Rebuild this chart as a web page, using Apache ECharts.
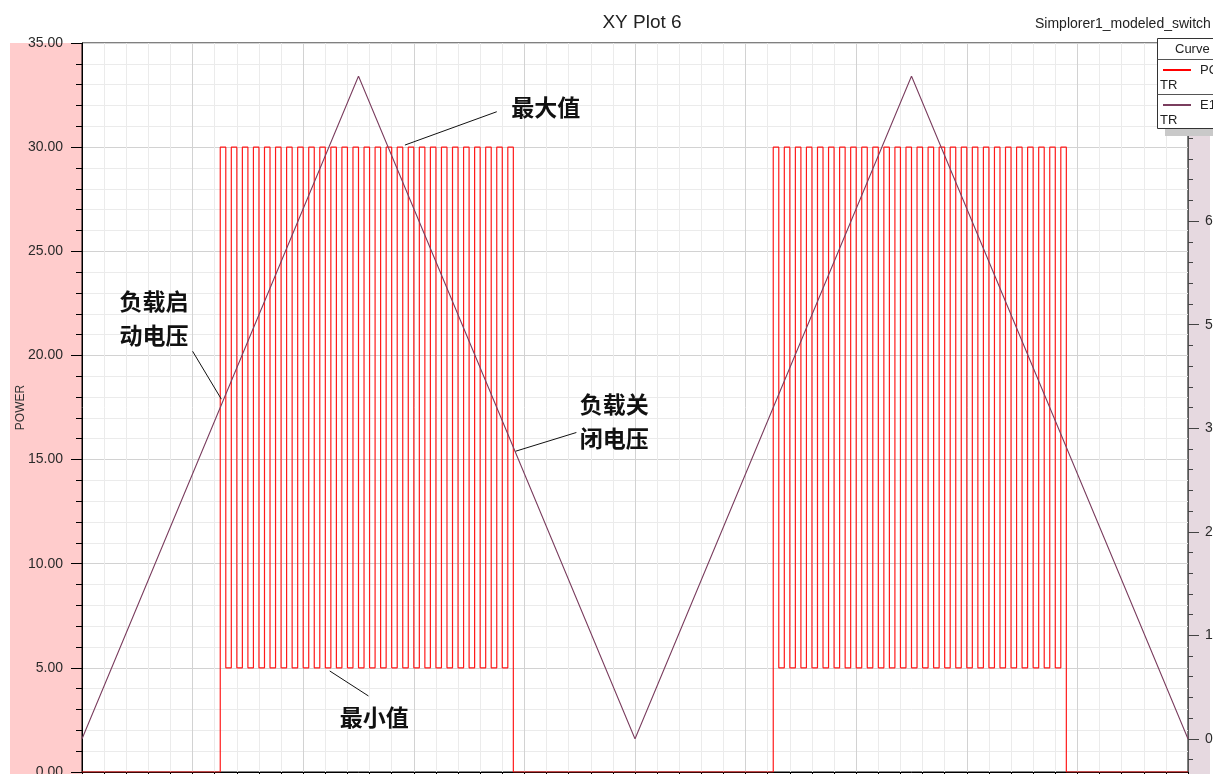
<!DOCTYPE html>
<html>
<head>
<meta charset="utf-8">
<title>XY Plot 6</title>
<script src="https://cdn.jsdelivr.net/npm/echarts@6/dist/echarts.min.js"></script>
<style>
  html, body { margin: 0; padding: 0; background: #ffffff; }
  #chart { width: 1213px; height: 774px; }
</style>
</head>
<body>
<div id="chart"></div>
<script>
// ---- data (time axis 0..100, POWER on left axis, E on right axis) ----
const powerRise = [
  12.5, 13.5, 14.5, 15.5, 16.5, 17.5, 18.5, 19.5, 20.5, 21.5, 22.5, 23.5, 24.5, 25.5,
  26.5, 27.5, 28.5, 29.5, 30.5, 31.5, 32.5, 33.5, 34.5, 35.5, 36.5, 37.5, 38.5,
  62.5, 63.5, 64.5, 65.5, 66.5, 67.5, 68.5, 69.5, 70.5, 71.5, 72.5, 73.5, 74.5, 75.5,
  76.5, 77.5, 78.5, 79.5, 80.5, 81.5, 82.5, 83.5, 84.5, 85.5, 86.5, 87.5, 88.5
];
const powerFall = [
  13.0, 14.0, 15.0, 16.0, 17.0, 18.0, 19.0, 20.0, 21.0, 22.0, 23.0, 24.0, 25.0, 26.0,
  27.0, 28.0, 29.0, 30.0, 31.0, 32.0, 33.0, 34.0, 35.0, 36.0, 37.0, 38.0, 39.0,
  63.0, 64.0, 65.0, 66.0, 67.0, 68.0, 69.0, 70.0, 71.0, 72.0, 73.0, 74.0, 75.0, 76.0,
  77.0, 78.0, 79.0, 80.0, 81.0, 82.0, 83.0, 84.0, 85.0, 86.0, 87.0, 88.0, 89.0
];
const powerBlockEnds = [39.0, 89.0];      // load switched off after these falls
const powerLevels = { high: 30, low: 5, off: 0 };
const timeRange = [0, 100];

const eTime = [0, 25, 50, 75, 100];
const eValues = [0, 80, 0, 80, 0];

const leftTicks = [0, 5, 10, 15, 20, 25, 30, 35];
const rightTicks = [0, 12.5, 25, 37.5, 50, 62.5, 75];
const rightMinorTicks = [-2.5, 2.5, 5, 7.5, 10, 15, 17.5, 20, 22.5, 27.5, 30, 32.5, 35,
  40, 42.5, 45, 47.5, 52.5, 55, 57.5, 60, 65, 67.5, 70, 72.5, 77.5, 80, 82.5];

// annotation texts with anchor (arrow tip), leader start and text position in data units
const notes = [
  { text: '最大值', tip: [29.2, 30.1], from: [37.5, 31.7], at: [38.8, 31.9] },
  { text: '负载启\n动电压', tip: [12.6, 17.9], from: [10.0, 20.2], at: [3.4, 21.8] },
  { text: '负载关\n闭电压', tip: [39.2, 15.4], from: [44.7, 16.3], at: [45.0, 16.85] },
  { text: '最小值', tip: [22.4, 4.85], from: [25.9, 3.65], at: [23.3, 2.62] }
];

// ---- build the POWER step trace from the switching edges ----
const powerData = [[timeRange[0], powerLevels.off]];
let blockStart = true;
for (let i = 0; i < powerRise.length; i++) {
  const r = powerRise[i], f = powerFall[i];
  powerData.push([r, blockStart ? powerLevels.off : powerLevels.low]);
  powerData.push([r, powerLevels.high]);
  powerData.push([f, powerLevels.high]);
  if (powerBlockEnds.includes(f)) {
    powerData.push([f, powerLevels.off]);
    blockStart = true;
  } else {
    powerData.push([f, powerLevels.low]);
    blockStart = false;
  }
}
powerData.push([timeRange[1], powerLevels.off]);

const eData = eTime.map((t, i) => [t, eValues[i]]);

const chart = echarts.init(document.getElementById('chart'), null, { renderer: 'canvas' });
const FONT = 'Liberation Sans, Arial, sans-serif';

chart.setOption({
  animation: false,
  backgroundColor: '#ffffff',
  title: [
    { text: 'XY Plot 6', left: 637, top: 8, textAlign: 'center',
      textStyle: { fontFamily: FONT, fontSize: 19, fontWeight: 'normal', color: '#222' } },
    { text: 'Simplorer1_modeled_switch', left: 1030, top: 12,
      textStyle: { fontFamily: FONT, fontSize: 14, fontWeight: 'normal', color: '#222' } }
  ],
  grid: { left: 82, right: 25, top: 43, bottom: 2, show: true, containLabel: false,
    outerBoundsMode: 'none',
    borderColor: '#000', borderWidth: 1, backgroundColor: 'transparent' },
  xAxis: {
    type: 'value', min: timeRange[0], max: timeRange[1], interval: 10,
    axisLine: { lineStyle: { color: '#000' } },
    axisTick: { show: true, length: 8, lineStyle: { color: '#000' } },
    minorTick: { show: true, splitNumber: 5, length: 5, lineStyle: { color: '#000' } },
    axisLabel: { show: false },
    splitLine: { show: true, lineStyle: { color: '#d2d2d2', width: 1 } },
    minorSplitLine: { show: true, lineStyle: { color: '#ebebeb', width: 1 } }
  },
  yAxis: [
    {
      type: 'value', min: 0, max: 35, interval: 5, position: 'left',
      name: 'POWER', nameLocation: 'middle', nameGap: 55, nameRotate: 90,
      nameMoveOverlap: false,
      nameTextStyle: { fontFamily: FONT, fontSize: 12, color: '#333' },
      axisLine: { show: true, lineStyle: { color: '#000' } },
      axisTick: { show: true, length: 11, lineStyle: { color: '#000' } },
      minorTick: { show: true, splitNumber: 5, length: 6, lineStyle: { color: '#000' } },
      axisLabel: { margin: 19, fontFamily: FONT, fontSize: 14, color: '#2a2a2a',
        formatter: v => leftTicks.includes(v) ? v.toFixed(2) : '' },
      splitLine: { show: true, lineStyle: { color: '#d2d2d2', width: 1 } },
      minorSplitLine: { show: true, lineStyle: { color: '#ebebeb', width: 1 } }
    },
    {
      type: 'value', min: -4, max: 84, position: 'right',
      axisLine: { show: true, lineStyle: { color: '#555' } },
      axisTick: { show: true, length: 11, customValues: rightTicks, lineStyle: { color: '#444' } },
      axisLabel: { margin: 17, fontFamily: FONT, fontSize: 14, color: '#2a2a2a',
        customValues: rightTicks, formatter: v => v.toFixed(2) },
      splitLine: { show: false }
    },
    {
      type: 'value', min: -4, max: 84, position: 'right',
      axisLine: { show: false },
      axisTick: { show: true, length: 5, customValues: rightMinorTicks, lineStyle: { color: '#444' } },
      axisLabel: { show: false },
      splitLine: { show: false }
    }
  ],
  series: [
    { name: 'POWER', type: 'line', yAxisIndex: 0, data: powerData, showSymbol: false,
      symbol: 'none', lineStyle: { color: '#ff1a1a', width: 1.2 }, z: 3 },
    { name: 'E', type: 'line', yAxisIndex: 1, data: eData, showSymbol: false,
      symbol: 'none', lineStyle: { color: '#7a3d5e', width: 1.2 }, z: 4 }
  ]
});

// side bands, legend box and annotations
const px = (p, yIdx) => chart.convertToPixel({ xAxisIndex: 0, yAxisIndex: yIdx || 0 }, p);
const graphics = [
  { type: 'rect', shape: { x: 10, y: 43, width: 72, height: 731 }, style: { fill: '#ffcccc' }, z: -5, silent: true },
  { type: 'rect', shape: { x: 1188, y: 43, width: 22, height: 731 }, style: { fill: '#e6d9e0' }, z: -5, silent: true },
  // legend
  { type: 'rect', shape: { x: 1165, y: 129, width: 60, height: 7 }, style: { fill: '#c9c9c9' }, z: 50 },
  { type: 'rect', shape: { x: 1157.5, y: 38.5, width: 70, height: 90 }, style: { fill: '#ffffff', stroke: '#333', lineWidth: 1 }, z: 51 },
  { type: 'line', shape: { x1: 1157.5, y1: 59.5, x2: 1213, y2: 59.5 }, style: { stroke: '#555', lineWidth: 1 }, z: 52 },
  { type: 'line', shape: { x1: 1157.5, y1: 94.5, x2: 1213, y2: 94.5 }, style: { stroke: '#555', lineWidth: 1 }, z: 52 },
  { type: 'text', x: 1175, y: 49, style: { text: 'Curve Info', font: '13px ' + FONT, fill: '#222', verticalAlign: 'middle' }, z: 52 },
  { type: 'line', shape: { x1: 1163, y1: 70, x2: 1191, y2: 70 }, style: { stroke: '#ff0000', lineWidth: 2 }, z: 52 },
  { type: 'text', x: 1200, y: 70, style: { text: 'POWER', font: '13px ' + FONT, fill: '#222', verticalAlign: 'middle' }, z: 52 },
  { type: 'text', x: 1160, y: 85, style: { text: 'TR', font: '13px ' + FONT, fill: '#222', verticalAlign: 'middle' }, z: 52 },
  { type: 'line', shape: { x1: 1163, y1: 105, x2: 1191, y2: 105 }, style: { stroke: '#7a3d5e', lineWidth: 2 }, z: 52 },
  { type: 'text', x: 1200, y: 105, style: { text: 'E1.V', font: '13px ' + FONT, fill: '#222', verticalAlign: 'middle' }, z: 52 },
  { type: 'text', x: 1160, y: 120, style: { text: 'TR', font: '13px ' + FONT, fill: '#222', verticalAlign: 'middle' }, z: 52 }
];
notes.forEach(n => {
  const a = px(n.tip), b = px(n.from), t = px(n.at);
  graphics.push({ type: 'line', shape: { x1: a[0], y1: a[1], x2: b[0], y2: b[1] },
    style: { stroke: '#111', lineWidth: 1 }, z: 20 });
  graphics.push({ type: 'text', x: t[0], y: t[1],
    style: { text: n.text, font: 'bold 23px "Noto Sans CJK SC", sans-serif', fill: '#111',
      verticalAlign: 'middle', lineHeight: 34 }, z: 20 });
});
chart.setOption({ graphic: graphics });
</script>
</body>
</html>
